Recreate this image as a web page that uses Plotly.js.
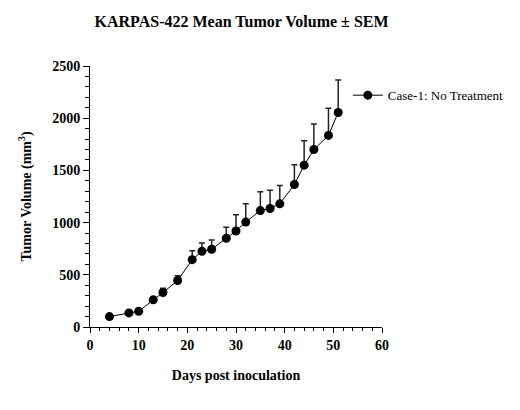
<!DOCTYPE html>
<html>
<head>
<meta charset="utf-8">
<script src="https://cdn.plot.ly/plotly-3.0.1.min.js"></script>
<style>
  html, body { margin: 0; padding: 0; background: #fff; }
  #chart { width: 520px; height: 410px; }
</style>
</head>
<body>
<div id="chart"></div>
<script>
// Mean tumor volume (mm³) of KARPAS-422 xenografts, untreated group
const days = [4, 8, 10, 13, 15, 18, 21, 23, 25, 28, 30, 32, 35, 37, 39, 42, 44, 46, 49, 51];
const meanVolume = [100, 135, 150, 260, 330, 445, 645, 725, 745, 850, 920, 1005, 1115, 1135, 1180, 1365, 1550, 1700, 1835, 2055];
const sem = [8, 10, 12, 25, 40, 45, 85, 80, 88, 105, 155, 175, 180, 175, 175, 190, 235, 245, 260, 310];
const seriesName = 'Case-1: No Treatment';
const xTicks = [0, 10, 20, 30, 40, 50, 60];
const yTicks = [0, 500, 1000, 1500, 2000, 2500];

const serif = 'Liberation Serif';
const bold = v => '<b>' + v + '</b>';

const trace = {
  x: days,
  y: meanVolume,
  name: seriesName,
  type: 'scatter',
  mode: 'lines+markers',
  line: { color: '#000', width: 1 },
  marker: { color: '#000', size: 9, symbol: 'circle' },
  error_y: {
    type: 'data',
    array: sem,
    symmetric: false,
    arrayminus: sem.map(() => 0),
    color: '#222',
    thickness: 1.5,
    width: 3
  },
  showlegend: true
};

const layout = {
  width: 520,
  height: 410,
  paper_bgcolor: '#fff',
  plot_bgcolor: '#fff',
  margin: { l: 90, r: 137, t: 66, b: 83 },
  font: { family: serif, color: '#000' },
  title: {
    text: bold('KARPAS-422 Mean Tumor Volume ± SEM'),
    font: { family: serif, size: 16, color: '#000' },
    x: 0.519, xref: 'paper', xanchor: 'center',
    y: 0.949, yref: 'container', yanchor: 'middle'
  },
  xaxis: {
    range: [0, 60],
    tickvals: xTicks,
    ticktext: xTicks.map(bold),
    ticks: 'outside', ticklen: 5, tickwidth: 1, tickcolor: '#000',
    minor: { dtick: 2, ticks: 'outside', ticklen: 3, tickwidth: 1, tickcolor: '#000' },
    showline: true, linecolor: '#000', linewidth: 1,
    showgrid: false, zeroline: false,
    tickfont: { family: serif, size: 14, color: '#000' },
    title: {
      text: bold('Days post inoculation'),
      font: { family: serif, size: 14, color: '#000' },
      standoff: 18
    }
  },
  yaxis: {
    range: [0, 2500],
    tickvals: yTicks,
    ticktext: yTicks.map(bold),
    ticks: 'outside', ticklen: 6, tickwidth: 1, tickcolor: '#000',
    minor: { dtick: 100, ticks: 'outside', ticklen: 4, tickwidth: 1, tickcolor: '#000' },
    showline: true, linecolor: '#000', linewidth: 1,
    showgrid: false, zeroline: false,
    tickfont: { family: serif, size: 14, color: '#000' },
    title: {
      text: bold('Tumor Volume (mm<sup>3</sup>)'),
      font: { family: serif, size: 14, color: '#000' },
      standoff: 17
    }
  },
  legend: {
    x: 0.88, xref: 'paper', xanchor: 'left',
    y: 0.888, yanchor: 'middle',
    bgcolor: 'rgba(0,0,0,0)',
    font: { family: serif, size: 13, color: '#000' }
  }
};

Plotly.newPlot('chart', [trace], layout, { displayModeBar: false, staticPlot: true });
</script>
</body>
</html>
